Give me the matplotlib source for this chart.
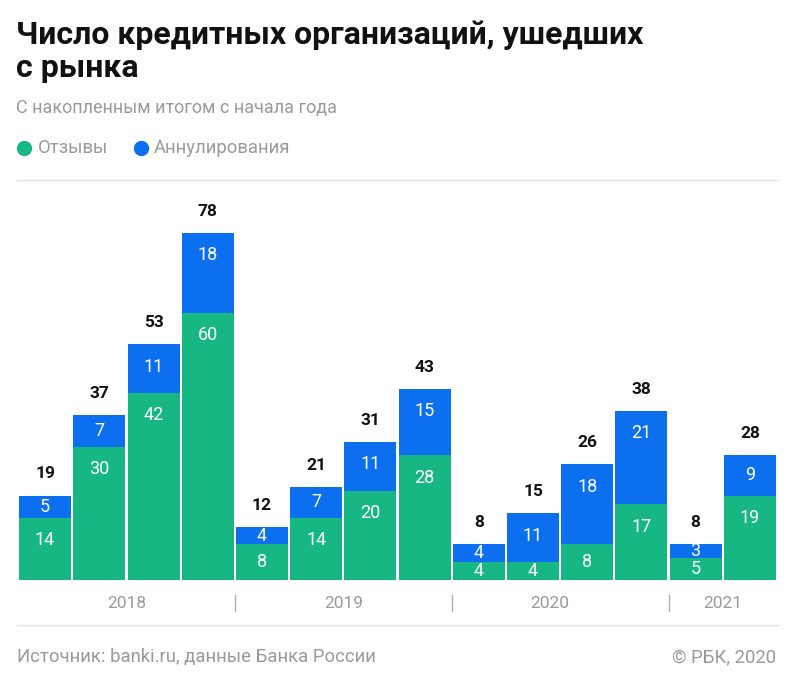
import numpy as np
import matplotlib.pyplot as plt
from matplotlib.lines import Line2D

plt.rcParams['font.family'] = ['Roboto', 'DejaVu Sans']

# data
revoked = [14, 30, 42, 60, 8, 14, 20, 28, 4, 4, 8, 17, 5, 19]
annulled = [5, 7, 11, 18, 4, 7, 11, 15, 4, 11, 18, 21, 3, 9]
years = ['2018', '2019', '2020', '2021']
year_pos = [1.5, 5.5, 9.3, 12.5]
year_sep = [3.5, 7.5, 11.5]

GREEN = '#17b783'
BLUE = '#0b6ff0'
GREY = '#9a9a9a'

W, H = 792, 681
fig = plt.figure(figsize=(W / 100, H / 100), dpi=100)

def fx(px):
    return px / W

def fy(py):
    return 1 - py / H

ax = fig.add_axes([fx(18), fy(580), fx(759), (580 - 202) / H])
x = np.arange(len(revoked))
rev = np.array(revoked)
ann = np.array(annulled)
tot = rev + ann

ax.bar(x, rev, width=0.96, color=GREEN, linewidth=0)
ax.bar(x, ann, bottom=rev, width=0.96, color=BLUE, linewidth=0)
ax.set_xlim(-0.5, len(x) - 0.5)
ax.set_ylim(0, 85)
ax.axis('off')

for i in range(len(x)):
    # labels sit near the top of each segment, or centered if segment is small
    yg = max(rev[i] - 5, rev[i] / 2)
    ax.text(x[i], yg, str(rev[i]), color='white', ha='center', va='center', fontsize=13)
    yb = max(tot[i] - 5, rev[i] + ann[i] / 2)
    ax.text(x[i], yb, str(ann[i]), color='white', ha='center', va='center', fontsize=13)
    ax.annotate(str(tot[i]), (x[i], tot[i]), xytext=(0, 15.5), textcoords='offset points',
                ha='center', va='center', fontsize=12.5, fontweight='bold', color='#111111')

# year labels below the bars
for yr, p in zip(years, year_pos):
    ax.annotate(yr, (p, 0), xytext=(0, -17), textcoords='offset points',
                ha='center', va='center', fontsize=12.5, color=GREY, annotation_clip=False)
for s in year_sep:
    px = 18 + (s + 0.5) * 759 / 14
    fig.add_artist(Line2D([fx(px), fx(px)], [fy(595), fy(611)], color='#b0b0b0', lw=1))

# title, subtitle, legend
fig.text(fx(16), fy(35), 'Число кредитных организаций, ушедших', fontsize=23, fontweight='bold',
         color='#111111', va='center')
fig.text(fx(16), fy(68), 'с рынка', fontsize=23, fontweight='bold', color='#111111', va='center')
fig.text(fx(16), fy(108), 'С накопленным итогом с начала года', fontsize=13, color=GREY, va='center')

fig.add_artist(Line2D([fx(24)], [fy(148)], marker='o', markersize=10, color=GREEN, lw=0))
fig.text(fx(38), fy(148), 'Отзывы', fontsize=13.3, color=GREY, va='center')
fig.add_artist(Line2D([fx(141)], [fy(148)], marker='o', markersize=10, color=BLUE, lw=0))
fig.text(fx(154), fy(148), 'Аннулирования', fontsize=13.3, color=GREY, va='center')

# divider lines
fig.add_artist(Line2D([fx(17), fx(778)], [fy(180), fy(180)], color='#e2e2e2', lw=1))
fig.add_artist(Line2D([fx(17), fx(778)], [fy(625), fy(625)], color='#e2e2e2', lw=1))

fig.text(fx(17), fy(657), 'Источник: banki.ru, данные Банка России', fontsize=13.3, color=GREY, va='center')
fig.text(fx(776), fy(657), '© РБК, 2020', fontsize=13.3, color=GREY, va='center', ha='right')

fig.savefig('out.png', dpi=100)
